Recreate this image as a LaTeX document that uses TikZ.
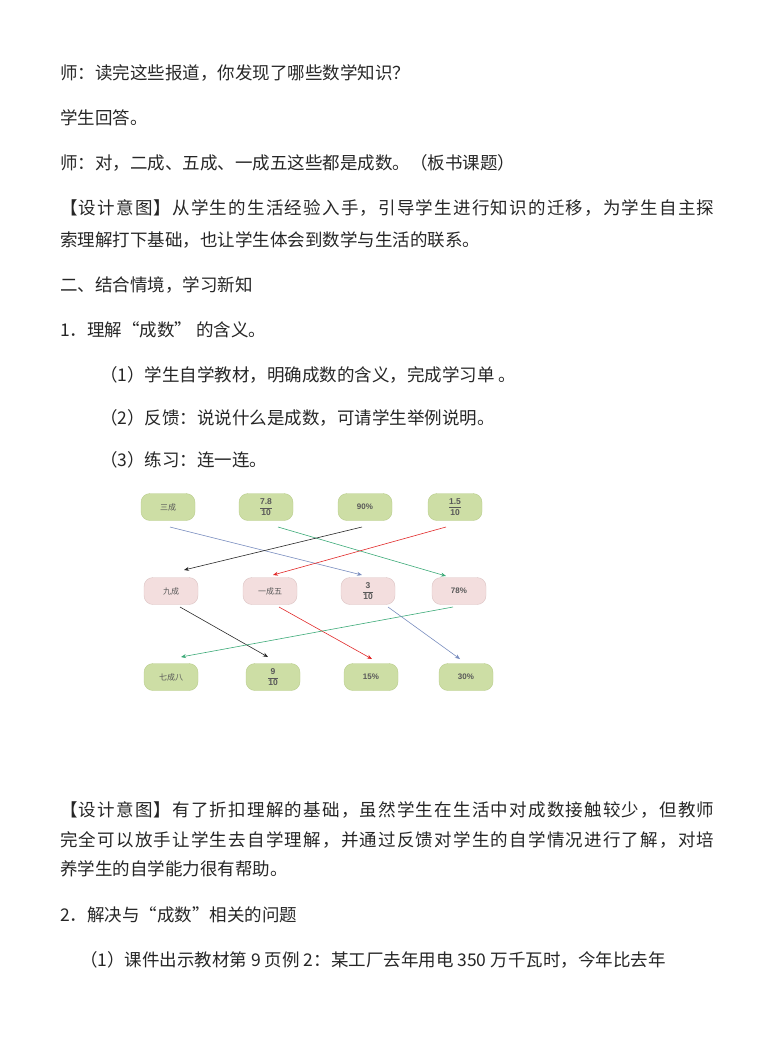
\documentclass[tikz,border=0pt]{standalone}
\usepackage{fontspec}
\setmainfont{Noto Sans CJK SC}
\newfontfamily\boxfont{Liberation Sans}
\usetikzlibrary{arrows.meta}
\definecolor{gbox}{RGB}{205,222,165}
\definecolor{gline}{RGB}{185,205,140}
\definecolor{pbox}{RGB}{243,222,222}
\definecolor{pline}{RGB}{220,195,195}
\definecolor{ablue}{RGB}{120,140,190}
\definecolor{agreen}{RGB}{60,170,120}
\definecolor{ared}{RGB}{225,40,40}
\definecolor{ablack}{RGB}{40,40,40}
\newcommand{\myfr}[2]{$\displaystyle\frac{\hbox{\boxfont\bfseries\fontsize{8.5}{9}\selectfont #1}}{\hbox{\boxfont\bfseries\fontsize{8.5}{9}\selectfont #2}}$}
\begin{document}
\begin{tikzpicture}[x=1pt,y=-1pt,
  txt/.style={anchor=west,inner sep=0pt,font=\fontsize{17.5}{19}\selectfont,text=black!85},
  jt/.style={txt,font=\fontsize{17.5}{19}\selectfont\addfontfeature{LetterSpace=7}},
  gb/.style={draw=gline,fill=gbox,rounded corners=9pt,minimum width=54pt,minimum height=27pt,inner sep=1pt,font=\fontsize{8}{9}\selectfont,text=black!65},
  pb/.style={gb,draw=pline,fill=pbox},
  ar/.style={-{Stealth[length=5pt,width=4pt]},line width=0.6pt}]
\useasboundingbox (0,0) rectangle (768,1044);
\node[txt] (t1) at (60,73) {师：读完这些报道，你发现了哪些数学知识？};
\node[txt] (t2) at (60,118) {学生回答。};
\node[txt] (t3) at (60,163) {师：对，二成、五成、一成五这些都是成数。（板书课题）};
\node[jt] (t4) at (60,208) {【设计意图】从学生的生活经验入手，引导学生进行知识的迁移，为学生自主探};
\node[txt] (t5) at (60,240) {索理解打下基础，也让学生体会到数学与生活的联系。};
\node[txt] (t6) at (60,285) {二、结合情境，学习新知};
\node[txt] (t7) at (60,330) {1．理解“成数” 的含义。};
\node[txt] (t8) at (100,375) {（1）学生自学教材，明确成数的含义，完成学习单 。};
\node[txt] (t9) at (100,418) {（2）反馈：说说什么是成数，可请学生举例说明。};
\node[txt] (t10) at (100,460) {（3）练习：连一连。};
\node[jt] (t11) at (60,810) {【设计意图】有了折扣理解的基础，虽然学生在生活中对成数接触较少，但教师};
\node[jt] (t12) at (60,840) {完全可以放手让学生去自学理解，并通过反馈对学生的自学情况进行了解，对培};
\node[txt] (t13) at (60,869) {养学生的自学能力很有帮助。};
\node[txt] (t14) at (60,915) {2．解决与“成数”相关的问题};
\node[txt] (t15) at (80,960) {（1）课件出示教材第 9 页例 2：某工厂去年用电 350 万千瓦时，今年比去年};
% row 1
\node[gb] (a1) at (168,507) {三成};
\node[gb] (a2) at (266,507) {\myfr{7.8}{10}};
\node[gb] (a3) at (365,507) {\boxfont\textbf{90\%}};
\node[gb] (a4) at (455,507) {\myfr{1.5}{10}};
% row 2
\node[pb] (b1) at (171,591) {九成};
\node[pb] (b2) at (270,591) {一成五};
\node[pb] (b3) at (368,591) {\myfr{3}{10}};
\node[pb] (b4) at (459,591) {\boxfont\textbf{78\%}};
% row 3
\node[gb] (c1) at (171,677) {七成八};
\node[gb] (c2) at (273,677) {\myfr{9}{10}};
\node[gb] (c3) at (371,677) {\boxfont\textbf{15\%}};
\node[gb] (c4) at (466,677) {\boxfont\textbf{30\%}};
% coordinates
\coordinate (p1) at (170,527); \coordinate (q1) at (362,575);
\coordinate (p2) at (278,527); \coordinate (q2) at (446,576);
\coordinate (p3) at (362,527); \coordinate (q3) at (184,570);
\coordinate (p4) at (446,527); \coordinate (q4) at (273,575);
\coordinate (p5) at (180,607); \coordinate (q5) at (268,657);
\coordinate (p6) at (279,607); \coordinate (q6) at (372,659);
\coordinate (p7) at (453,607); \coordinate (q7) at (181,657);
\coordinate (p8) at (388,607); \coordinate (q8) at (460,659);
\draw[ar,ablue] (p1) -- (q1);
\draw[ar,agreen] (p2) -- (q2);
\draw[ar,ablack] (p3) -- (q3);
\draw[ar,ared] (p4) -- (q4);
\draw[ar,ablack] (p5) -- (q5);
\draw[ar,ared] (p6) -- (q6);
\draw[ar,agreen] (p7) -- (q7);
\draw[ar,ablue] (p8) -- (q8);
\end{tikzpicture}
\end{document}
